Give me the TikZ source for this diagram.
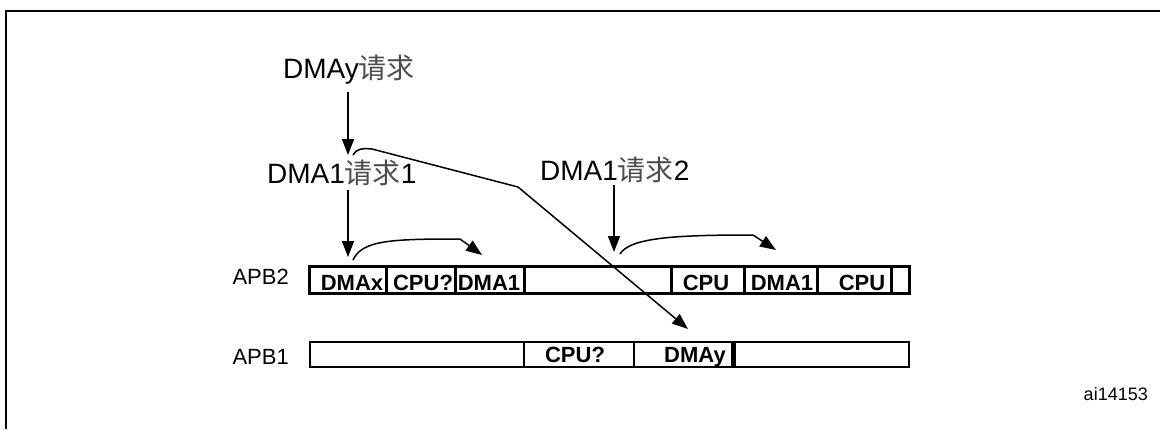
\documentclass[tikz,border=0pt]{standalone}
\usepackage{fontspec}
\setmainfont{Liberation Sans}
\newfontfamily\cjk{Noto Sans CJK SC}
\usetikzlibrary{arrows.meta}
\begin{document}
\begin{tikzpicture}[x=1pt,y=-1pt,
  big/.style={font=\fontsize{28}{30}\selectfont, inner sep=0pt, anchor=base west},
  bus/.style={font=\fontsize{22}{24}\selectfont, inner sep=0pt, anchor=base east},
  seg/.style={draw, line width=3pt, inner sep=0pt},
  lab/.style={font=\bfseries\fontsize{22}{24}\selectfont, inner sep=0pt, anchor=base},
  conn/.style={line width=1.5pt},
  arr/.style={conn, -{Triangle[length=16pt,width=12pt]}}]
\useasboundingbox (0,0) rectangle (1160,429);
\draw[line width=2pt] (1160,11) -- (6,11) -- (6,429);

% headline texts
\node[big] (dmay) at (283,78) {DMAy{\cjk\color{black!70}请求}};
\node[big] (req1) at (267,183) {DMA1{\cjk\color{black!70}请求}1};
\node[big] (req2) at (540,180) {DMA1{\cjk\color{black!70}请求}2};

% bus labels
\node[bus] (apb2) at (289,284) {APB2};
\node[bus] (apb1) at (289,364) {APB1};

% APB2 segments
\foreach \n/\a/\b in {b1/309/386, b2/386/455, b3/455/524, b4/524/671, b5/671/744, b6/744/817, b7/817/891, b8/891/909}{
  \node[seg, minimum width={\b-\a}, minimum height=27] (\n) at ({(\a+\b)/2},279.5) {};
}
% APB1 segments
\foreach \n/\a/\b in {c1/310/524, c2/524/634, c3/634/735, c4/735/909}{
  \node[seg, line width=2.6pt, minimum width={\b-\a}, minimum height=25] (\n) at ({(\a+\b)/2},354.5) {};
}
\draw[line width=4.5pt] (c4.north west) -- (c4.south west);

% segment labels
\node[lab] (l1) at (352,290) {DMAx};
\node[lab] (l2) at (423,290) {CPU?};
\node[lab] (l3) at (489,290) {DMA1};
\node[lab] (l4) at (706,290) {CPU};
\node[lab] (l5) at (782,290) {DMA1};
\node[lab] (l6) at (862,290) {CPU};
\node[lab] (m1) at (575,362) {CPU?};
\node[lab] (m2) at (695,362) {DMAy};

\node[font=\fontsize{18}{20}\selectfont, inner sep=0pt, anchor=base east] (id) at (1148,400) {ai14153};

% connector end points
\coordinate (tA) at (348,155);
\coordinate (tB) at (348,257);
\coordinate (tC) at (614,252);
\coordinate (tD) at (688,329);
\coordinate (tE) at (482,255);
\coordinate (tF) at (776,250);

\draw[arr, shorten <=8pt] (dmay.south -| tA) -- (tA);
\draw[arr, shorten <=4pt] (req1.south -| tB) -- (tB);
\draw[arr, shorten <=2pt] (req2.south -| tC) -- (tC);

\draw[arr] ([xshift=5pt]tA) .. controls (356,149) and (362,148) .. (372,149) -- (518,187) -- (tD);
\draw[arr] ([xshift=5pt,yshift=-3pt]tB) .. controls (362,240) and (392,239) .. (460,239) -- (tE);
\draw[arr] ([xshift=6pt,yshift=-2pt]tC) .. controls (630,237) and (680,235) .. (753,235) -- (tF);
\end{tikzpicture}
\end{document}
